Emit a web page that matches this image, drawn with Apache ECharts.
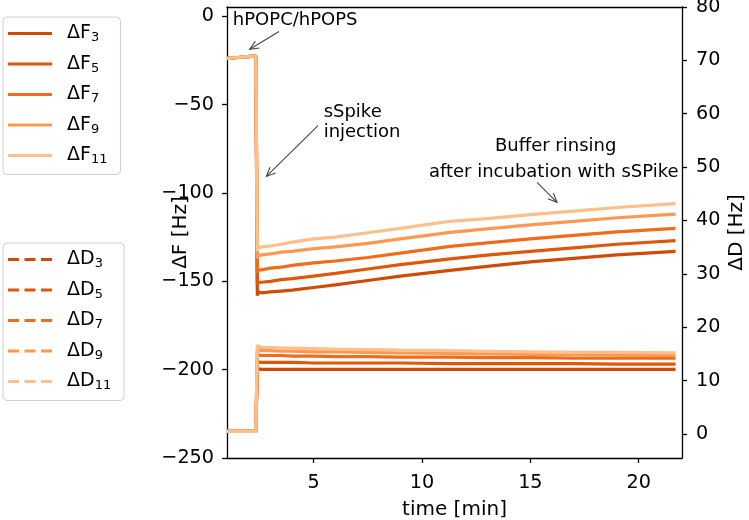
<!DOCTYPE html>
<html>
<head>
<meta charset="utf-8">
<script src="https://cdn.jsdelivr.net/npm/echarts@6/dist/echarts.min.js"></script>
<style>html,body{margin:0;padding:0;background:#fff;}#c{width:749px;height:520px;}</style>
</head>
<body>
<div id="c"></div>
<script>
// ---- data ----
const time = [1.0, 1.5, 2.0, 2.33, 2.40, 2.45, 2.6, 3.0, 3.5, 4.0, 5.0, 6.0, 7.5, 9.0, 11.3, 13.0, 15.0, 17.0, 19.0, 21.7];
const dF3  = [-23.8,-23.3,-22.8,-22.3,-158.0,-156.0,-156.5,-156.0,-155.5,-155.0,-153.5,-152.0,-149.5,-147.0,-143.8,-141.5,-139.0,-137.0,-135.0,-133.0];
const dF5  = [-23.8,-23.3,-22.8,-22.3,-152.0,-150.5,-150.5,-150.0,-149.0,-148.5,-147.0,-145.5,-143.0,-140.5,-137.3,-135.2,-133.0,-131.0,-129.0,-127.0];
const dF7  = [-23.8,-23.3,-22.8,-22.3,-145.0,-143.5,-143.5,-142.5,-142.0,-141.0,-139.5,-138.5,-136.5,-134.0,-130.2,-128.2,-126.0,-124.0,-122.0,-120.0];
const dF9  = [-23.8,-23.3,-22.8,-22.3,-137.0,-135.5,-135.0,-134.5,-133.5,-133.0,-131.5,-130.5,-128.5,-126.0,-122.3,-120.3,-118.0,-116.0,-114.0,-112.0];
const dF11 = [-23.8,-23.3,-22.8,-22.3,-133.0,-131.0,-130.5,-130.0,-129.0,-127.8,-126.0,-125.0,-122.5,-120.0,-116.0,-114.5,-112.2,-110.2,-108.2,-106.0];
const dD3  = [0.5,0.5,0.5,0.5,12.2,12.1,12.1,12.1,12.1,12.1,12.1,12.1,12.1,12.1,12.1,12.1,12.1,12.1,12.1,12.1];
const dD5  = [0.5,0.5,0.5,0.5,13.5,13.4,13.4,13.4,13.4,13.4,13.3,13.3,13.3,13.3,13.2,13.2,13.2,13.2,13.1,13.1];
const dD7  = [0.5,0.5,0.5,0.5,14.9,14.8,14.7,14.7,14.7,14.6,14.6,14.5,14.5,14.4,14.4,14.3,14.3,14.2,14.2,14.2];
const dD9  = [0.5,0.5,0.5,0.5,15.9,15.7,15.6,15.6,15.5,15.5,15.4,15.4,15.3,15.2,15.1,15.0,14.9,14.9,14.8,14.7];
const dD11 = [0.5,0.5,0.5,0.5,16.6,16.4,16.2,16.2,16.1,16.1,16.0,15.9,15.8,15.7,15.6,15.5,15.4,15.3,15.3,15.2];

const fNames = ['ΔF3','ΔF5','ΔF7','ΔF9','ΔF11'];
const dNames = ['ΔD3','ΔD5','ΔD7','ΔD9','ΔD11'];
const fValues = [dF3, dF5, dF7, dF9, dF11];
const dValues = [dD3, dD5, dD7, dD9, dD11];
const colors = ['#d04a08','#e0560b','#f06c1c','#fd9850','#fdc08a'];

const xTicks = [5, 10, 15, 20];
const fTicks = [-250, -200, -150, -100, -50, 0];
const dTicks = [0, 10, 20, 30, 40, 50, 60, 70, 80];

const annTexts = ['hPOPC/hPOPS', 'sSpike', 'injection', 'Buffer rinsing', 'after incubation with sSPike'];
const annTextPos = [[1.27, -2.5], [5.46, -54.5], [5.46, -65.8], [16.17, -73.5], [16.08, -88.2]];
const annAlign = ['left', 'left', 'left', 'center', 'center'];
const arrowTails = [[3.40, -8.6], [5.20, -61.9], [15.31, -94.0]];
const arrowHeads = [[2.05, -18.6], [2.82, -90.6], [16.23, -105.3]];

// ---- chart ----
const FONT = 'DejaVu Sans';
const FS = 19.2;     // tick labels
const NFS = 20;      // axis names
const minus = v => (v < 0 ? '\u2212' + Math.abs(v) : String(v));
const chart = echarts.init(document.getElementById('c'), null, {renderer: 'canvas'});

const legendRich = {
  a: {fontSize: 19, fontFamily: FONT, color: '#000', lineHeight: 22},
  s: {fontSize: 13, fontFamily: FONT, color: '#000', lineHeight: 12, verticalAlign: 'bottom'}
};
const legendFmt = name => '{a|' + name.slice(0, 2) + '}{s|' + name.slice(2) + '}';
const SOLID_ICON = 'path://M0,0H40V3H0Z';
const DASH_ICON = 'path://M0,0H10V3H0Z M15,0H25V3H15Z M30,0H40V3H30Z';

const series = [];
fNames.forEach((n, k) => series.push({
  name: n, type: 'line', yAxisIndex: 0, symbol: 'none', showSymbol: false,
  data: time.map((t, i) => [t, fValues[k][i]]),
  lineStyle: {width: 3.2, color: colors[k]}, itemStyle: {color: colors[k]},
  animation: false, z: 3
}));
dNames.forEach((n, k) => series.push({
  name: n, type: 'line', yAxisIndex: 1, symbol: 'none', showSymbol: false,
  data: time.map((t, i) => [t, dValues[k][i]]),
  lineStyle: {width: 3.2, color: colors[k]}, itemStyle: {color: colors[k]},
  animation: false, z: 2
}));

const legendBase = {
  orient: 'vertical', left: 3, itemWidth: 44, itemHeight: 3, itemGap: 10,
  symbolKeepAspect: false,
  padding: [7, 13, 8, 5], borderColor: '#d0d0d0', borderWidth: 1, borderRadius: 4,
  backgroundColor: '#fff', selectedMode: false, formatter: legendFmt,
  textStyle: {rich: legendRich, padding: [0, 0, 0, 10]}
};

const axisLineStyle = {color: '#000', width: 1.3};
chart.setOption({
  animation: false,
  backgroundColor: '#fff',
  textStyle: {fontFamily: FONT},
  grid: {left: 227, right: 67, top: 7, bottom: 62, containLabel: false, outerBoundsMode: 'none'},
  legend: [
    Object.assign({}, legendBase, {top: 17, data: fNames.map(n => ({name: n, icon: SOLID_ICON}))}),
    Object.assign({}, legendBase, {top: 243, data: dNames.map(n => ({name: n, icon: DASH_ICON}))})
  ],
  xAxis: [{
    type: 'value', min: 1, max: 22, position: 'bottom',
    name: 'time [min]', nameLocation: 'middle', nameGap: 42, nameMoveOverlap: false,
    nameTextStyle: {fontSize: NFS, color: '#000', fontFamily: FONT},
    axisLine: {show: true, onZero: false, lineStyle: axisLineStyle},
    axisTick: {show: true, length: 5, customValues: xTicks, lineStyle: axisLineStyle},
    axisLabel: {customValues: xTicks, fontSize: FS, color: '#000', fontFamily: FONT, margin: 16},
    splitLine: {show: false}
  }, {
    type: 'value', min: 1, max: 22, position: 'top',
    axisLine: {show: true, onZero: false, lineStyle: axisLineStyle},
    axisTick: {show: false}, axisLabel: {show: false}, splitLine: {show: false}
  }],
  yAxis: [{
    type: 'value', min: -250, max: 5.3, position: 'left',
    name: 'ΔF [Hz]', nameLocation: 'middle', nameGap: 36, nameRotate: 90, nameMoveOverlap: false,
    nameTextStyle: {fontSize: NFS, color: '#000', fontFamily: FONT},
    axisLine: {show: true, onZero: false, lineStyle: axisLineStyle},
    axisTick: {show: true, length: 5, customValues: fTicks, lineStyle: axisLineStyle},
    axisLabel: {customValues: fTicks, formatter: minus, fontSize: FS, color: '#000', fontFamily: FONT, margin: 13},
    splitLine: {show: false}
  }, {
    type: 'value', min: -4.5, max: 80, position: 'right',
    name: 'ΔD [Hz]', nameLocation: 'middle', nameGap: 45, nameRotate: 90, nameMoveOverlap: false,
    nameTextStyle: {fontSize: NFS, color: '#000', fontFamily: FONT},
    axisLine: {show: true, onZero: false, lineStyle: axisLineStyle},
    axisTick: {show: true, length: 5, customValues: dTicks, lineStyle: axisLineStyle},
    axisLabel: {customValues: dTicks, fontSize: FS, color: '#000', fontFamily: FONT, margin: 14},
    splitLine: {show: false}
  }],
  series: series
});

// ---- annotations positioned through the chart's own scales ----
const px = p => chart.convertToPixel({xAxisIndex: 0, yAxisIndex: 0}, p);
const graphics = [];
annTexts.forEach((t, i) => {
  const p = px(annTextPos[i]);
  graphics.push({type: 'text', x: p[0], y: p[1], z: 100, style: {
    text: t, fill: '#000', fontSize: 18, fontFamily: FONT,
    align: annAlign[i], verticalAlign: 'middle'}});
});
arrowTails.forEach((tail, i) => {
  const a = px(tail), b = px(arrowHeads[i]);
  const dx = b[0] - a[0], dy = b[1] - a[1], L = Math.hypot(dx, dy);
  const ux = dx / L, uy = dy / L, nx = -uy, ny = ux;
  const hl = 9, hw = 4;
  const s = {stroke: '#444', lineWidth: 1.1, fill: null};
  graphics.push({type: 'line', z: 100, shape: {x1: a[0], y1: a[1], x2: b[0], y2: b[1]}, style: s});
  graphics.push({type: 'polyline', z: 100, shape: {points: [
    [b[0] - hl * ux + hw * nx, b[1] - hl * uy + hw * ny], b,
    [b[0] - hl * ux - hw * nx, b[1] - hl * uy - hw * ny]]}, style: s});
});
chart.setOption({graphic: graphics});
</script>
</body>
</html>
